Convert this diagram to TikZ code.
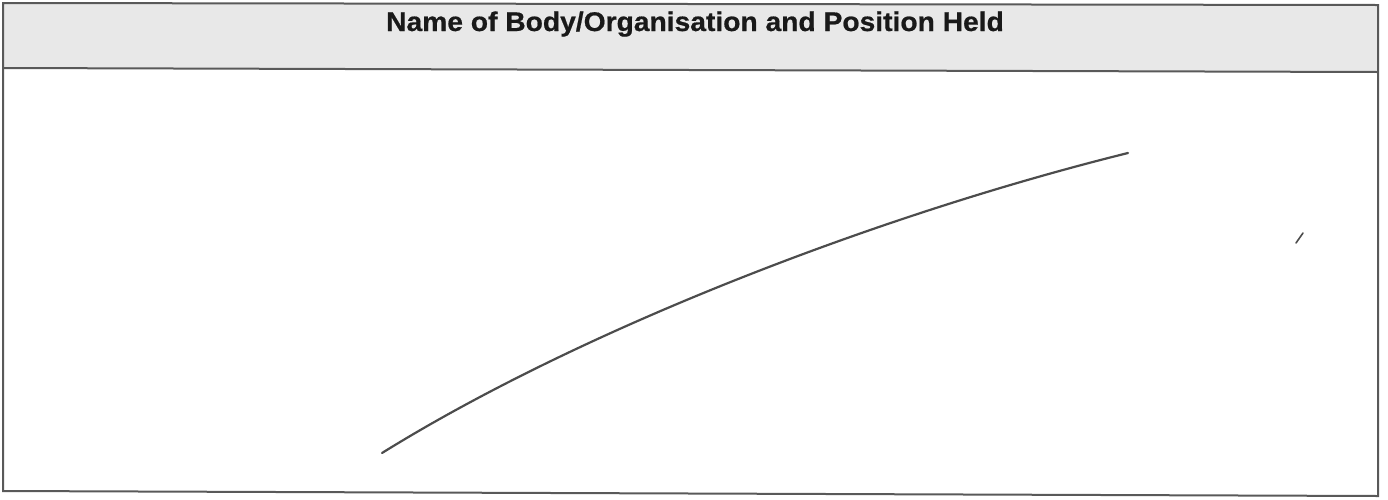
\documentclass[tikz,border=0pt]{standalone}
\usepackage{fontspec}
\setmainfont{Liberation Sans}
\newfontfamily\headfont[FakeBold=0.6]{Liberation Sans Bold}
\begin{document}
\begin{tikzpicture}[x=0.5pt,y=-0.5pt,
  frame/.style={draw=black!65, line width=1pt},
  stroke/.style={draw=black!70, line width=1.1pt, line cap=round},
  title/.style={font=\headfont\fontsize{13.5}{15}\selectfont, text=black!90, inner sep=0pt, xscale=1.045}]
\useasboundingbox (0,0) rectangle (1388,499);
\coordinate (tl) at (3,3);
\coordinate (tr) at (1378,5);
\coordinate (br) at (1378,496);
\coordinate (bl) at (3,491);
\coordinate (hl) at (3,68);
\coordinate (hr) at (1378,72);
\fill[black!9] (tl) -- (tr) -- (hr) -- (hl) -- cycle;
\draw[frame] (tl) -- (tr) -- (br) -- (bl) -- cycle;
\draw[frame] (hl) -- (hr);
\node[title, anchor=base] (head) at (695,31) {Name of Body/Organisation and Position Held};
\coordinate (s) at (382,453);
\coordinate (e) at (1128,153);
\draw[stroke] (s) .. controls (582,329) and (878,215) .. (e);
\coordinate (t1) at (1296,243);
\coordinate (t2) at (1303,233);
\draw[stroke, line width=0.8pt] (t1) -- (t2);
\end{tikzpicture}
\end{document}
